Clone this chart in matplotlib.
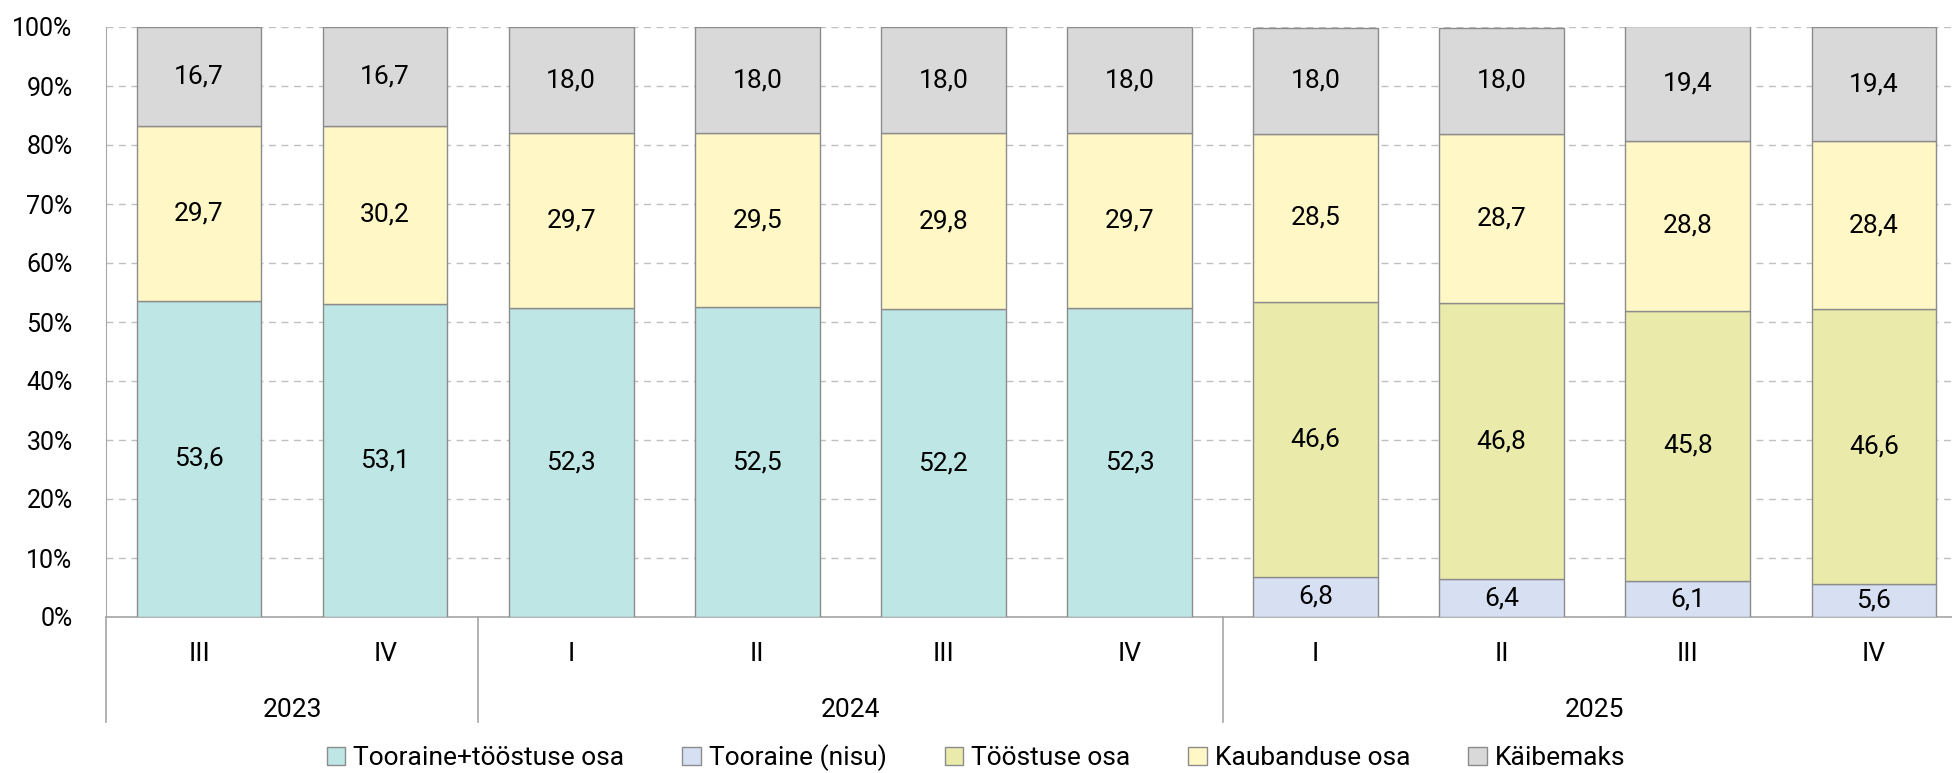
import matplotlib.pyplot as plt
import numpy as np
from matplotlib.patches import Patch

plt.rcParams["font.family"] = ["Roboto", "DejaVu Sans"]

quarters = ["III", "IV", "I", "II", "III", "IV", "I", "II", "III", "IV"]
years = ["2023", "2024", "2025"]
year_spans = [(0, 1), (2, 5), (6, 9)]

series_names = ["Tooraine+tööstuse osa", "Tooraine (nisu)", "Tööstuse osa", "Kaubanduse osa", "Käibemaks"]
tooraine_toostus = [53.6, 53.1, 52.3, 52.5, 52.2, 52.3, 0, 0, 0, 0]
tooraine_nisu = [0, 0, 0, 0, 0, 0, 6.8, 6.4, 6.1, 5.6]
toostus = [0, 0, 0, 0, 0, 0, 46.6, 46.8, 45.8, 46.6]
kaubandus = [29.7, 30.2, 29.7, 29.5, 29.8, 29.7, 28.5, 28.7, 28.8, 28.4]
kaibemaks = [16.7, 16.7, 18.0, 18.0, 18.0, 18.0, 18.0, 18.0, 19.4, 19.4]

colors = ["#bde6e5", "#d6e0f2", "#eaebaa", "#fff7c5", "#d9d9d9"]
edge = "#8c8c8c"

fig = plt.figure(figsize=(19.52, 7.73), dpi=100)
ax = fig.add_axes([106 / 1952, 1 - 617 / 773, 1 - 106 / 1952, (617 - 27) / 773])

x = np.arange(len(quarters))
bottom = np.zeros(len(quarters))
for name, vals, col in zip(series_names, [tooraine_toostus, tooraine_nisu, toostus, kaubandus, kaibemaks], colors):
    vals = np.array(vals)
    mask = vals > 0
    ax.bar(x[mask], vals[mask], bottom=bottom[mask], width=0.67, color=col, edgecolor=edge, linewidth=1.0, zorder=3)
    for xi, v, b in zip(x[mask], vals[mask], bottom[mask]):
        top = min(b + v, 100)
        ax.text(xi, (b + top) / 2, f"{v:.1f}".replace(".", ","), ha="center", va="center", fontsize=19, zorder=4)
    bottom += vals

ax.set_ylim(0, 100)
ax.set_xlim(-0.5, 9.42)
ax.set_yticks(np.arange(0, 101, 10))
ax.set_yticklabels([f"{v}%" for v in range(0, 101, 10)], fontsize=18)
ax.yaxis.grid(True, linestyle=(0, (5, 4)), color="#c0c0c0", linewidth=1.0, zorder=0)
ax.tick_params(axis="y", length=0, pad=24)

ax.set_xticks(x)
ax.set_xticklabels(quarters, fontsize=19)
ax.tick_params(axis="x", length=0, pad=18)

for s in ["top", "right"]:
    ax.spines[s].set_visible(False)
ax.spines["left"].set_color("#a6a6a6")
ax.spines["bottom"].set_color("#a6a6a6")
ax.spines["bottom"].set_linewidth(1.2)

trans = ax.get_xaxis_transform()
drop = -(722 - 617) / 590
for sep in [-0.5, 1.5, 5.5]:
    ax.plot([sep, sep], [0, drop], color="#a6a6a6", linewidth=1.2, transform=trans, clip_on=False)
for yr, (a, b) in zip(years, year_spans):
    ax.text((a + b) / 2, -(710 - 617) / 590, yr, transform=trans, ha="center", va="center", fontsize=19)

handles = [Patch(facecolor=c, edgecolor=edge, label=n) for n, c in zip(series_names, colors)]
fig.legend(handles=handles, loc="center", bbox_to_anchor=(0.5, 1 - 758 / 773), ncol=5, frameon=False,
           fontsize=19, handlelength=0.7, handleheight=0.7, handletextpad=0.3, columnspacing=2.2)

fig.savefig("out.png", dpi=100)
